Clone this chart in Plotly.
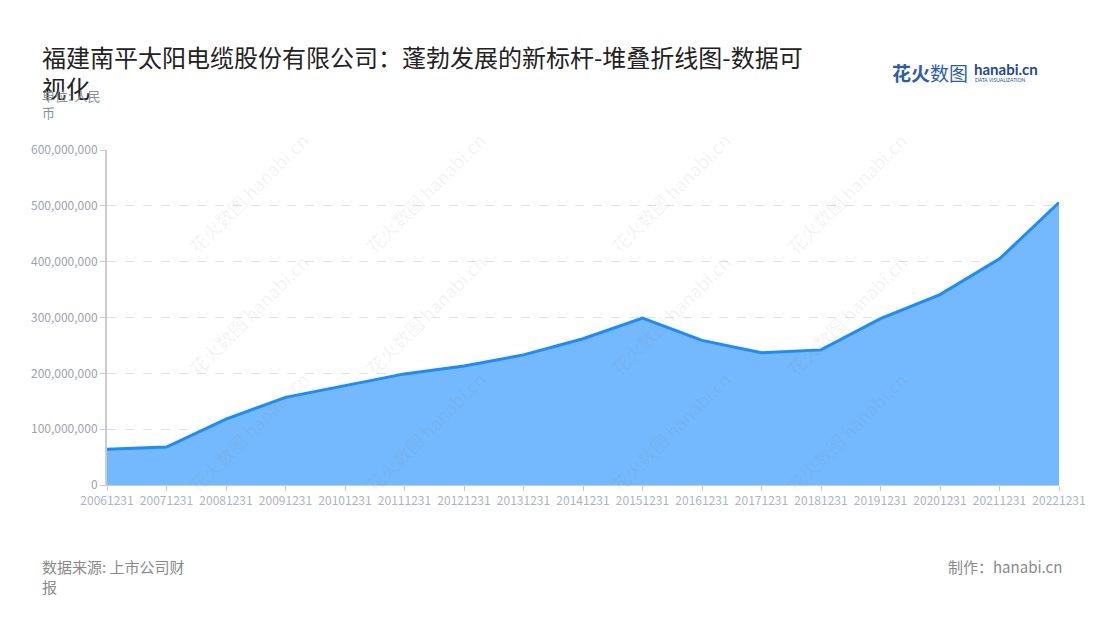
import plotly.graph_objects as go

categories = ["20061231", "20071231", "20081231", "20091231", "20101231", "20111231",
              "20121231", "20131231", "20141231", "20151231", "20161231", "20171231",
              "20181231", "20191231", "20201231", "20211231", "20221231"]
values = [64e6, 68e6, 118e6, 157e6, 178e6, 199e6, 213e6, 233e6, 262e6, 299e6,
          259e6, 237e6, 242e6, 298e6, 341e6, 405e6, 506e6]
y_ticks = [0, 100e6, 200e6, 300e6, 400e6, 500e6, 600e6]
y_tick_labels = ["0", "100,000,000", "200,000,000", "300,000,000", "400,000,000",
                 "500,000,000", "600,000,000"]

FONT = "Noto Sans CJK SC, Noto Sans, sans-serif"

fig = go.Figure()
fig.add_trace(go.Scatter(
    x=categories, y=values, mode="lines",
    line=dict(color="#1a8cff", width=3),
    fill="tozeroy", fillcolor="#74b8fd",
    hoverinfo="x+y",
))

# page pixel -> paper coords (plot area spans x 107..1059, y 150..485 on the page)
def px(xp):
    return (xp - 107) / 952

def py(yp):
    return (485 - yp) / 335

annotations = []
# watermarks
for cx in [180, 425, 670, 915]:
    for cy in [125, 315, 500]:
        annotations.append(dict(
            xref="paper", yref="paper", x=px(cx), y=py(cy),
            text="花火数图 hanabi.cn", showarrow=False, textangle=-45,
            font=dict(family=FONT, size=18, color="rgba(120,120,120,0.09)"),
        ))

annotations += [
    dict(xref="paper", yref="paper", x=px(40), y=py(37), xanchor="left", yanchor="top",
         text="福建南平太阳电缆股份有限公司：蓬勃发展的新标杆-堆叠折线图-数据可<br>视化",
         align="left", showarrow=False,
         font=dict(family=FONT, size=24, color="#222222")),
    dict(xref="paper", yref="paper", x=px(40), y=py(84), xanchor="left", yanchor="top",
         text="单位: 人民<br>币", align="left", showarrow=False,
         font=dict(family=FONT, size=13, color="#8a8f99")),
    dict(xref="paper", yref="paper", x=px(40), y=py(554), xanchor="left", yanchor="top",
         text="数据来源: 上市公司财<br>报", align="left", showarrow=False,
         font=dict(family=FONT, size=15, color="#8a8a8a")),
    dict(xref="paper", yref="paper", x=px(1064), y=py(554), xanchor="right", yanchor="top",
         text="制作：hanabi.cn", align="right", showarrow=False,
         font=dict(family=FONT, size=15, color="#8a8a8a")),
    # logo
    dict(xref="paper", yref="paper", x=px(890), y=py(72), xanchor="left", yanchor="middle",
         text="<b>花火</b>数图", showarrow=False,
         font=dict(family=FONT, size=19, color="#2a5db0")),
    dict(xref="paper", yref="paper", x=px(972), y=py(69), xanchor="left", yanchor="middle",
         text="<b>hanabi.cn</b>", showarrow=False,
         font=dict(family="Lato, sans-serif", size=15, color="#1d4a9c")),
    dict(xref="paper", yref="paper", x=px(973), y=py(80), xanchor="left", yanchor="middle",
         text="DATA VISUALIZATION", showarrow=False,
         font=dict(family="Lato, sans-serif", size=5, color="#1d4a9c")),
]

fig.update_layout(
    width=1100, height=620,
    margin=dict(l=99, r=49, t=142, b=143),
    paper_bgcolor="white", plot_bgcolor="white",
    showlegend=False,
    font=dict(family=FONT, size=12, color="#999"),
    annotations=annotations,
    xaxis=dict(
        type="category", range=[0, len(categories) - 1],
        showline=True, linecolor="#cccccc", linewidth=1,
        ticks="outside", ticklen=5, tickcolor="#cccccc",
        showgrid=False, zeroline=False,
        tickfont=dict(family=FONT, size=12, color="#b0b3bd"),
    ),
    yaxis=dict(
        range=[0, 600e6], tickvals=y_ticks, ticktext=y_tick_labels,
        showline=True, linecolor="#cccccc", linewidth=2,
        ticks="outside", ticklen=5, tickcolor="#cccccc",
        showgrid=True, gridcolor="#e2e2e2", griddash="dash", gridwidth=1,
        zeroline=False,
        tickfont=dict(family=FONT, size=12, color="#a0a3ad"),
    ),
)

fig.write_html("out.html")
